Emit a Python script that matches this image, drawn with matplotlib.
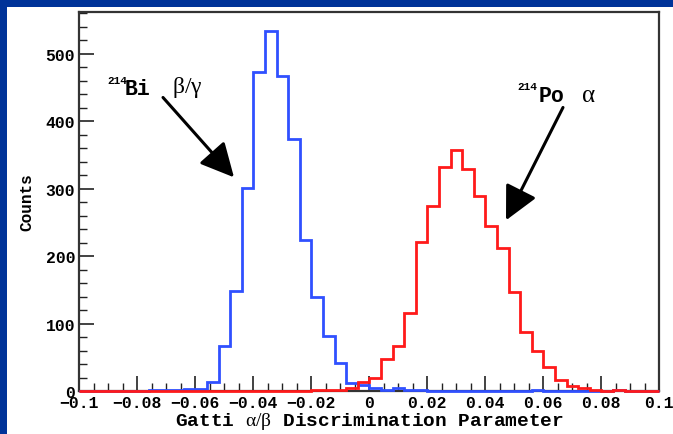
import numpy as np
import matplotlib
matplotlib.use("Agg")
import matplotlib.pyplot as plt
from matplotlib.patches import Rectangle
from matplotlib.ticker import MultipleLocator, FuncFormatter

plt.rcParams['mathtext.fontset'] = 'custom'
plt.rcParams['mathtext.rm'] = 'Liberation Serif'
plt.rcParams['mathtext.it'] = 'Liberation Serif'
plt.rcParams['mathtext.bf'] = 'Liberation Serif:bold'

# ---- data (50 bins, width 0.004, from -0.1 to 0.1) ----
bin_edges = np.round(np.linspace(-0.1, 0.1, 51), 4)
bi214_counts = [0, 0, 0, 0, 0, 0, 1, 1, 2, 3,
                3, 13, 67, 148, 301, 473, 533, 466, 374, 224,
                140, 81, 41, 12, 9, 4, 1, 5, 2, 1,
                0, 0, 0, 0, 0, 0, 0, 0, 0, 2,
                0, 0, 0, 0, 0, 0, 1, 0, 0, 0]
po214_counts = [0, 0, 0, 0, 0, 0, 0, 0, 0, 0,
                0, 0, 0, 0, 0, 0, 0, 0, 0, 0,
                1, 1, 2, 4, 14, 19, 48, 67, 115, 221,
                274, 332, 357, 329, 289, 244, 212, 147, 88, 60,
                36, 17, 8, 4, 1, 0, 2, 0, 0, 0]
xticks = [-0.1, -0.08, -0.06, -0.04, -0.02, 0, 0.02, 0.04, 0.06, 0.08, 0.1]
yticks = [0, 100, 200, 300, 400, 500]

W, H = 673, 435
fig = plt.figure(figsize=(W / 100, H / 100), dpi=100)
fig.patch.set_facecolor('#003399')
bg = Rectangle((7 / W, 0), 1, (H - 8) / H, transform=fig.transFigure,
               facecolor='white', edgecolor='none', zorder=-10)
fig.patches.append(bg)

ax = fig.add_axes([79.3 / W, (H - 392) / H, (659.3 - 79.3) / W, (392 - 12.7) / H])
ax.set_zorder(5)
ax.set_xlim(-0.1, 0.1)
ax.set_ylim(0, 562)

ax.stairs(bi214_counts, bin_edges, color='#3050ff', lw=2.0, zorder=3, clip_on=False)
ax.stairs(po214_counts, bin_edges, color='#ff1a1a', lw=2.0, zorder=4, clip_on=False)

mono = 'Liberation Mono'
ax.set_xticks(xticks)
ax.set_yticks(yticks)
ax.xaxis.set_minor_locator(MultipleLocator(0.005))
ax.yaxis.set_minor_locator(MultipleLocator(20))
ax.tick_params(which='both', direction='in', top=False, right=False, color='#222222')
ax.tick_params(which='major', length=11, width=1.2)
ax.tick_params(which='minor', length=6, width=1.0)
ax.tick_params(axis='x', pad=3)
ax.tick_params(axis='y', pad=3)
ax.xaxis.set_major_formatter(FuncFormatter(lambda v, p: '0' if abs(v) < 1e-9 else ('%g' % v).replace('-', '\u2212')))
for lab in ax.get_xticklabels() + ax.get_yticklabels():
    lab.set_fontfamily(mono)
    lab.set_fontweight('bold')
    lab.set_fontsize(11.8)

for s in ax.spines.values():
    s.set_linewidth(1.6)
    s.set_color('#333333')

ax.set_xlabel(r'Gatti $\alpha/\beta$ Discrimination Parameter', fontfamily=mono,
              fontweight='bold', fontsize=14, labelpad=0)
ax.set_ylabel('Counts', fontfamily=mono, fontweight='bold', fontsize=11.5, labelpad=8)

def px2data(px, py):
    return ((px - 79.3) / 2900.0 - 0.1, (392 - py) / 0.676)

# annotations
ax.text(*px2data(107, 80), '214', fontfamily=mono, fontweight='bold', fontsize=8,
        ha='left', va='center')
ax.text(*px2data(125, 89), 'Bi', fontfamily=mono, fontweight='bold', fontsize=15.5,
        ha='left', va='center')
ax.text(*px2data(172, 87), r'$\beta/\gamma$', fontsize=17, ha='left', va='center')

ax.text(*px2data(517, 87), '214', fontfamily=mono, fontweight='bold', fontsize=8,
        ha='left', va='center')
ax.text(*px2data(539, 96), 'Po', fontfamily=mono, fontweight='bold', fontsize=15.5,
        ha='left', va='center')
ax.text(*px2data(581, 95), r'$\alpha$', fontsize=18, ha='left', va='center')

arrow = dict(arrowstyle='-|>,head_length=0.9,head_width=0.45', lw=2.2, color='black',
             mutation_scale=23, shrinkA=0, shrinkB=0)
ax.annotate('', xy=px2data(234, 178), xytext=px2data(163, 98), arrowprops=arrow)
ax.annotate('', xy=px2data(506, 221), xytext=px2data(563, 108), arrowprops=arrow)

fig.savefig('out.png', dpi=100, facecolor=fig.get_facecolor())
